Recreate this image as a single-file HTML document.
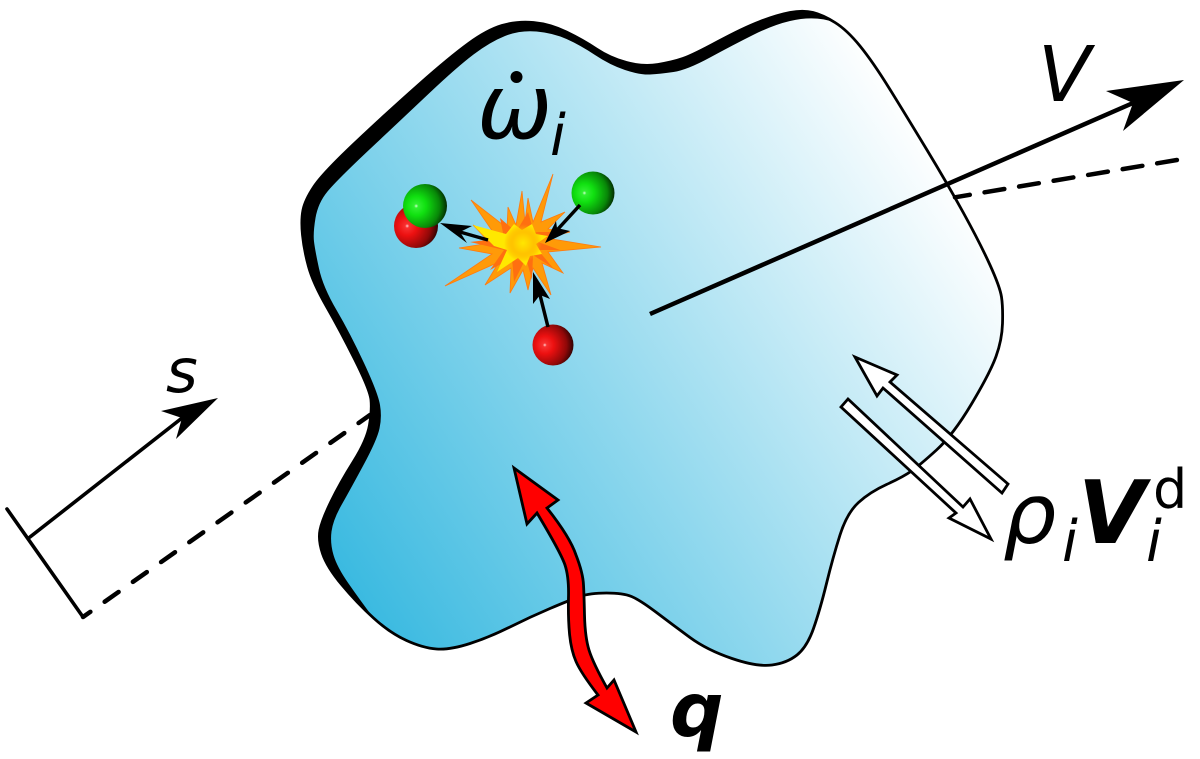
<!DOCTYPE html>
<html><head><meta charset="utf-8"><style>html,body{margin:0;padding:0;background:#fff}svg{display:block}text{font-family:"DejaVu Sans",sans-serif;fill:#000}</style></head><body>
<svg width="1200" height="759" viewBox="0 0 1200 759" xmlns="http://www.w3.org/2000/svg">
<defs>
<linearGradient id="b" gradientUnits="userSpaceOnUse" x1="340" y1="590" x2="960" y2="185"><stop offset="0" stop-color="#38b9e0"/><stop offset="1" stop-color="#fff"/></linearGradient>
<radialGradient id="g" cx=".3" cy=".5" r=".78"><stop offset="0" stop-color="#d0ffd0"/><stop offset=".06" stop-color="#30f030"/><stop offset=".28" stop-color="#10e010"/><stop offset=".68" stop-color="#088808"/><stop offset="1" stop-color="#000"/></radialGradient>
<radialGradient id="r" cx=".3" cy=".5" r=".78"><stop offset="0" stop-color="#ffd0d0"/><stop offset=".06" stop-color="#f83030"/><stop offset=".28" stop-color="#ec1010"/><stop offset=".68" stop-color="#900808"/><stop offset="1" stop-color="#000"/></radialGradient>
<radialGradient id="y"><stop offset="0" stop-color="#ffe600"/><stop offset=".55" stop-color="#ffc400"/><stop offset="1" stop-color="#ff9a00" stop-opacity="0"/></radialGradient>
</defs>
<path d="M342 585Q327 567 322.5 553.5Q318 540 320 530Q322 520 331 501.5Q340 483 353.5 461.5Q367 440 369.500 425Q372 410 371 400Q370 390 355 360Q340 330 326.5 306.5Q313 283 308.5 266.5Q304 250 302.5 235Q301 220 303 210Q305 200 314 186.5Q323 173 356.5 141.5Q390 110 420 83.5Q450 57 468.5 43.5Q487 30 502 25.5Q517 21 533.5 22.5Q550 24 566.5 32Q583 40 596.5 49Q610 58 626.5 62.5Q643 67 658 64.5Q673 62 683 58.5Q693 55 718 41.5Q743 28 760 21.5Q777 15 790 12.5Q803 10 813 12.5Q823 15 835 22.5Q847 30 860 46Q873 62 890 89.5Q907 117 927 150Q947 183 963.5 213Q980 243 990 265Q1000 287 1001.5 297Q1003 307 1002.5 323.5Q1002 340 996 356.5Q990 373 971.5 404Q953 435 936.5 450Q920 465 911.5 471Q903 477 886.5 484.5Q870 492 858.5 502.5Q847 513 840 535Q833 557 826.5 583.5Q820 610 813.5 628.5Q807 647 797 655Q787 663 772 665Q757 667 732 658.5Q707 650 690 637.5Q673 625 656.5 612.5Q640 600 631.5 596.5Q623 593 606.5 593Q590 593 580 596.5Q570 600 550 608.5Q530 617 510 627Q490 637 470 643.5Q450 650 436.5 649Q423 648 406.5 640.5Q390 633 373.5 618Q357 603 342 585Z" fill="url(#b)" stroke="#000" stroke-width="2.8"/>
<path d="M373.5 618Q357 603 342 585Q327 567 322.5 553.5Q318 540 320 530Q322 520 331 501.5Q340 483 353.5 461.5Q367 440 369.500 425Q372 410 371 400Q370 390 355 360Q340 330 326.5 306.5Q313 283 308.5 266.5Q304 250 302.5 235Q301 220 303 210Q305 200 314 186.5Q323 173 356.5 141.5Q390 110 420 83.5Q450 57 468.5 43.5Q487 30 502 25.5Q517 21 533.5 22.5Q550 24 566.5 32Q583 40 596.5 49Q610 58 626.5 62.5Q643 67 658 64.5Q673 62 683 58.5Q693 55 718 41.5Q743 28 760 21.5Q777 15 790 12.5Q803 10 813 12.5Q823 15 835 22.5Q815 15 790 21Q773 25 753 35Q733 45 710 57.5Q687 70 673.5 72Q660 74 650 74.5Q640 75 625 70Q610 65 595 55Q580 45 566.5 39Q553 33 536.5 31.5Q520 30 505 36Q490 42 473.5 54.5Q457 67 430 92.5Q403 118 370 149Q337 180 327.5 191.5Q318 203 315.5 218Q313 233 314 241.5Q315 250 319 268.5Q323 287 336.5 310Q350 333 364 363Q378 393 380 405Q382 417 379.5 428.5Q377 440 363.5 465Q350 490 341.5 505Q333 520 331.5 531.5Q330 543 333.5 555Q337 567 348.5 583.5Q360 600 373.5 618Z" fill="#000"/>
<path d="M650 314L1133 103" stroke="#000" stroke-width="4.500" fill="none"/>
<path d="M1184 80L1106 91L1133 103L1123 131Z" fill="#000"/>
<path d="M955 197.300L1177 160" stroke="#000" stroke-width="4.500" stroke-dasharray="20 15" stroke-dashoffset="5" fill="none" stroke-linecap="round"/>
<path d="M7 509L83 617M30 537L182 418" stroke="#000" stroke-width="3.600" fill="none" stroke-linecap="round"/>
<path d="M218 398L161 411L182 418L176 439Z" fill="#000"/>
<path d="M83 617L370 415" stroke="#000" stroke-width="4.500" stroke-dasharray="17 17.5" stroke-dashoffset="8" fill="none" stroke-linecap="round"/>
<!-- white arrows -->
<path d="M855 357L897 375L890 382L1008 484L1002 493L883 388L877 396Z" fill="#fff" stroke="#000" stroke-width="2.800"/>
<path d="M841 407L848 399L963 507L970 499L991 539L949 518L956 513Z" fill="#fff" stroke="#000" stroke-width="2.800"/>
<!-- red arrow -->
<path d="M514 468L558 500L547 508Q570 537 576 555Q583 573 583.5 585Q584 593 584.500 615Q585 637 589 650Q593 663 607 688L614 680L636 732L586 703L598 695Q581 673 576 661.5Q571 650 569.5 633.5Q568 617 568.500 597Q569 577 565 565Q561 553 537 513L527 524Z" fill="#f00" stroke="#000" stroke-width="2.800"/>
<!-- explosion -->
<polygon points="553,174 541,222 565,212 548,229 570,232 546,238 601,247 548,252 563,273 542,263 551,295 533,268 528,290 523,270 510,293 511,268 485,285 499,262 445,286 492,254 459,248 490,243 473,225 495,235 471,200 507,228 508,207 516,225 522,191 525,222 528,198 533,222" fill="#ff9a08" stroke="#ff7a10" stroke-width=".8"/>
<polygon points="528,212 534,232 556,232 538,242 560,250 538,250 553,268 533,255 532,280 526,258 514,282 512,258 490,270 504,250 470,242 504,238 500,218 516,232" fill="#ff6f10"/>
<polygon points="473,225 506,234 514,224 522,230 532,224 536,234 548,236 536,244 542,254 530,256 526,266 518,258 497,272 507,250 494,246" fill="#ffe800"/>
<circle cx="523" cy="243" r="19" fill="url(#y)"/>
<!-- molecules -->
<circle cx="416" cy="226" r="22" fill="url(#r)"/>
<circle cx="425" cy="206" r="22" fill="url(#g)"/>
<circle cx="593" cy="193" r="21.500" fill="url(#g)"/>
<circle cx="553" cy="345" r="20.500" fill="url(#r)"/>
<!-- small arrows -->
<path d="M488 240L460 232" stroke="#000" stroke-width="3.500"/>
<path d="M440 223L472 226L460 232L467 243Z" fill="#000"/>
<path d="M580 205L558 229" stroke="#000" stroke-width="3.500"/>
<path d="M545 243L556 221L557 228L570 231Z" fill="#000"/>
<path d="M548 327L540 295" stroke="#000" stroke-width="3.500"/>
<path d="M533 272L550 299L540 295L533 304Z" fill="#000"/>
<!-- labels -->
<text x="477" y="138" font-size="90" font-style="italic">ω</text>
<circle cx="516.500" cy="77" r="6" fill="#000"/>
<text x="550" y="155" font-size="57" font-style="italic">i</text>
<text x="1038" y="101" font-size="77" font-style="italic">V</text>
<text x="166" y="392" font-size="61" font-style="italic">s</text>
<text x="670" y="736" font-size="75" font-weight="bold" font-style="italic">q</text>
<text x="1003" y="543" font-size="84" font-style="italic">ρ</text>
<text x="1062" y="561" font-size="57" font-style="italic">i</text>
<text x="1078" y="543" font-size="87" font-weight="bold" font-style="italic">V</text>
<text x="1146" y="561" font-size="57" font-style="italic">i</text>
<text x="1153" y="508" font-size="54">d</text>
</svg>
</body></html>
